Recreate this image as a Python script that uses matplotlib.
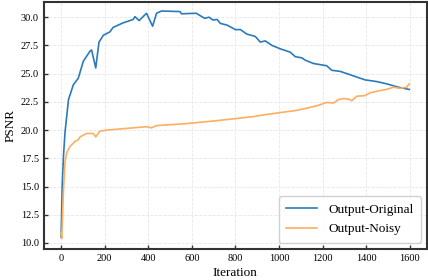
import numpy as np
import matplotlib
matplotlib.use('Agg')
import matplotlib.pyplot as plt

plt.rcParams['font.family'] = ['Liberation Serif', 'DejaVu Serif']
plt.rcParams['mathtext.fontset'] = 'stix'

# Output-Original (blue)
orig_iter = [0, 5, 11, 18, 34, 56, 79, 102, 133, 140, 159, 174, 194, 224, 239, 285,
             331, 339, 358, 392, 420, 438, 461, 545, 553, 620, 659, 679, 697, 716,
             731, 762, 800, 823, 853, 891, 914, 937, 968, 1006, 1052, 1075, 1105,
             1120, 1158, 1219, 1242, 1281, 1327, 1357, 1395, 1448, 1494, 1548, 1598]
orig_psnr = [10.5, 15.0, 17.7, 19.8, 22.7, 24.0, 24.6, 26.1, 27.0, 27.1, 25.5, 27.8,
             28.4, 28.7, 29.1, 29.5, 29.8, 30.05, 29.7, 30.35, 29.2, 30.35, 30.55,
             30.5, 30.3, 30.35, 29.9, 30.0, 29.75, 29.8, 29.45, 29.3, 28.9, 28.9,
             28.5, 28.3, 27.8, 27.9, 27.5, 27.2, 26.9, 26.5, 26.4, 26.2, 25.9, 25.7,
             25.3, 25.2, 24.9, 24.7, 24.45, 24.3, 24.1, 23.8, 23.6]

# Output-Noisy (orange)
noisy_iter = [0, 3, 11, 18, 26, 41, 64, 79, 87, 117, 148, 159, 178, 209, 331, 392,
              415, 438, 560, 697, 792, 884, 930, 1006, 1082, 1128, 1174, 1219, 1250,
              1273, 1296, 1319, 1334, 1357, 1395, 1418, 1464, 1494, 1525, 1555, 1586,
              1598]
noisy_psnr = [10.9, 10.4, 14.7, 17.2, 18.0, 18.55, 19.0, 19.15, 19.4, 19.7, 19.7,
              19.4, 19.9, 20.0, 20.2, 20.3, 20.2, 20.4, 20.55, 20.8, 21.0, 21.2,
              21.35, 21.55, 21.75, 21.95, 22.15, 22.45, 22.4, 22.7, 22.8, 22.75,
              22.6, 23.0, 23.05, 23.3, 23.5, 23.6, 23.8, 23.7, 23.8, 24.1]

fig = plt.figure(figsize=(4.28, 2.8), dpi=100)
ax = fig.add_axes([0.102, 0.11, 0.896, 0.883])

ax.plot(orig_iter, orig_psnr, color='#2b7bba', lw=1.2, label='Output-Original')
ax.plot(noisy_iter, noisy_psnr, color='#fdae61', lw=1.2, label='Output-Noisy')

ax.set_xticks([0, 200, 400, 600, 800, 1000, 1200, 1400, 1600])
ax.set_yticks([10.0, 12.5, 15.0, 17.5, 20.0, 22.5, 25.0, 27.5, 30.0])
ax.set_xlim(-80, 1680)
ax.set_ylim(9.45, 31.35)
ax.grid(True, ls='--', color='#e6e6e6', lw=0.6)
ax.tick_params(direction='in', labelsize=7.5, width=1.0, length=3, color='#333333')
for s in ax.spines.values():
    s.set_linewidth(1.5)
    s.set_color('#333333')

ax.set_xlabel('Iteration', fontsize=9.5, labelpad=3)
ax.set_ylabel('PSNR', fontsize=9.5, labelpad=3)
ax.legend(loc='lower right', fontsize=9.5, handlelength=2.4, borderpad=0.55,
          labelspacing=0.55, fancybox=True, framealpha=0.9, edgecolor='#cccccc')

fig.savefig('out.png', dpi=100)
